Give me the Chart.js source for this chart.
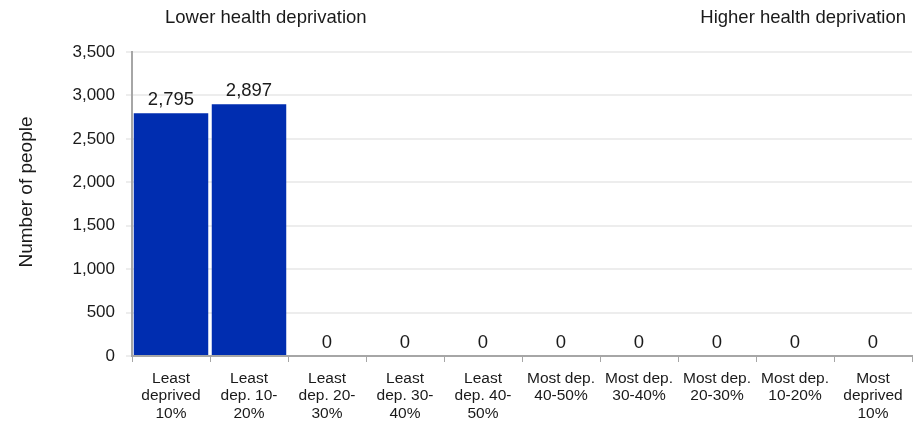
<!DOCTYPE html>
<html>
<head>
<meta charset="utf-8">
<script src="https://cdn.jsdelivr.net/npm/chart.js@4"></script>
<style>
html,body{margin:0;padding:0;background:#fff;}
#wrap{width:914px;height:421px;position:relative;}
</style>
</head>
<body>
<div id="wrap"><canvas id="c" width="914" height="421"></canvas></div>
<script>
const categories = [
  ["Least","deprived","10%"],
  ["Least","dep. 10-","20%"],
  ["Least","dep. 20-","30%"],
  ["Least","dep. 30-","40%"],
  ["Least","dep. 40-","50%"],
  ["Most dep.","40-50%"],
  ["Most dep.","30-40%"],
  ["Most dep.","20-30%"],
  ["Most dep.","10-20%"],
  ["Most","deprived","10%"]
];
const peopleCounts = [2795, 2897, 0, 0, 0, 0, 0, 0, 0, 0];
const yTicks = [0, 500, 1000, 1500, 2000, 2500, 3000, 3500];
const yAxisTitle = "Number of people";
const leftHeader = "Lower health deprivation";
const rightHeader = "Higher health deprivation";

const FONT = "'Liberation Sans', Arial, Helvetica, sans-serif";
const TEXT = "#1a1a1a";

const annotate = {
  id: 'annotate',
  afterDatasetsDraw(chart) {
    const ctx = chart.ctx;
    const area = chart.chartArea;
    const meta = chart.getDatasetMeta(0);
    ctx.save();
    ctx.fillStyle = TEXT;
    ctx.font = "18.5px " + FONT;
    ctx.textAlign = "center";
    ctx.textBaseline = "alphabetic";
    meta.data.forEach((bar, i) => {
      const v = peopleCounts[i];
      ctx.fillText(v.toLocaleString('en-US'), bar.x, bar.y - 8);
    });
    ctx.font = "18.5px " + FONT;
    ctx.textAlign = "left";
    ctx.fillText(leftHeader, area.left + 33, 23);
    ctx.textAlign = "right";
    ctx.fillText(rightHeader, area.right - 6, 23);
    ctx.font = "19px " + FONT;
    ctx.translate(32, 192);
    ctx.rotate(-Math.PI / 2);
    ctx.textAlign = "center";
    ctx.fillText(yAxisTitle, 0, 0);
    ctx.restore();
  }
};

new Chart(document.getElementById('c'), {
  type: 'bar',
  data: {
    labels: categories,
    datasets: [{
      data: peopleCounts,
      backgroundColor: '#002DB0',
      borderWidth: 0,
      barPercentage: 0.955,
      categoryPercentage: 1.0
    }]
  },
  options: {
    responsive: false,
    animation: false,
    layout: { padding: { top: 52, right: 2, left: 0, bottom: 0 } },
    plugins: { legend: { display: false }, tooltip: { enabled: false } },
    scales: {
      x: {
        grid: { drawOnChartArea: false, drawTicks: true, tickLength: 6, color: '#a6a6a6', offset: true },
        border: { color: '#a6a6a6', width: 2 },
        ticks: { color: TEXT, font: { family: FONT, size: 15.5, lineHeight: 1.12 }, padding: 8, maxRotation: 0, autoSkip: false },
        afterFit(scale) { scale.height = 65; }
      },
      y: {
        min: 0, max: 3500,
        afterBuildTicks(scale) { scale.ticks = yTicks.map(v => ({ value: v })); },
        grid: { color: '#ededed', lineWidth: 2, drawTicks: true, tickLength: 6 },
        border: { color: '#a6a6a6', width: 2 },
        ticks: {
          color: TEXT, font: { family: FONT, size: 17 }, padding: 11,
          callback: v => Number(v).toLocaleString('en-US')
        },
        afterFit(scale) { scale.width = 132; }
      }
    }
  },
  plugins: [annotate]
});
</script>
</body>
</html>
